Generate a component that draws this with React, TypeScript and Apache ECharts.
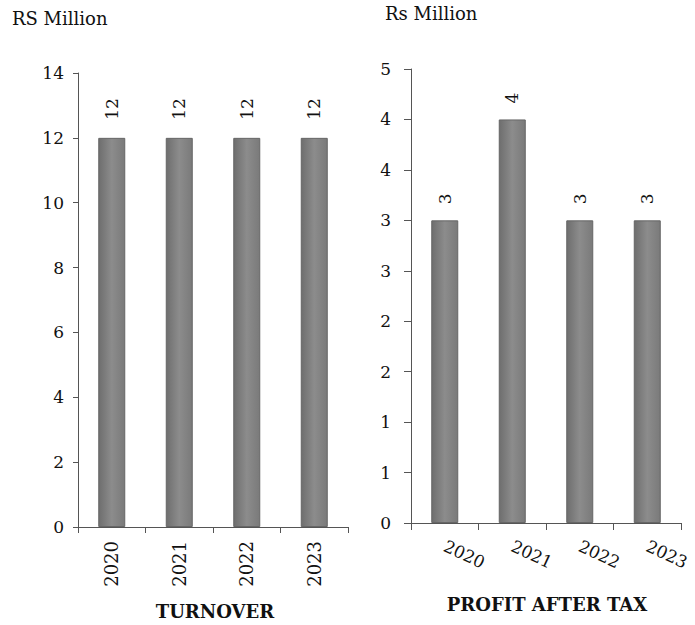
import React, { useEffect, useRef } from "react";
import * as echarts from "echarts";

const years = ["2020", "2021", "2022", "2023"];
const turnover = [12, 12, 12, 12];
const profitAfterTax = [3, 4, 3, 3];
const leftUnit = "RS Million";
const rightUnit = "Rs Million";
const leftTitle = "TURNOVER";
const rightTitle = "PROFIT AFTER TAX";

const FONT = "'DejaVu Serif', serif";
const TEXT = "#111";
const AXIS = "#555";

const barStyle = {
  color: new echarts.graphic.LinearGradient(0, 0, 1, 0, [
    { offset: 0, color: "#6e6e6e" },
    { offset: 0.5, color: "#8c8c8c" },
    { offset: 1, color: "#7a7a7a" },
  ]),
  borderColor: "#666",
  borderWidth: 1,
};

export default function App() {
  const ref = useRef<HTMLDivElement>(null);
  useEffect(() => {
    if (!ref.current) return;
    const chart = echarts.init(ref.current, undefined, { renderer: "svg" });
    chart.setOption({
      animation: false,
      backgroundColor: "#fff",
      textStyle: { fontFamily: FONT },
      grid: [
        { left: 78, top: 73, width: 270, height: 454 },
        { left: 411, top: 69, width: 270, height: 454 },
      ],
      xAxis: [
        {
          gridIndex: 0,
          type: "category",
          data: years,
          axisLine: { lineStyle: { color: AXIS } },
          axisTick: { show: true, length: 6, lineStyle: { color: AXIS } },
          axisLabel: { rotate: 90, margin: 14, fontSize: 18, color: TEXT, fontFamily: FONT },
        },
        {
          gridIndex: 1,
          type: "category",
          data: years,
          axisLine: { lineStyle: { color: AXIS } },
          axisTick: { show: true, length: 7, lineStyle: { color: AXIS } },
          axisLabel: { rotate: -25, margin: 22, fontSize: 17, color: TEXT, fontFamily: FONT },
        },
      ],
      yAxis: [
        {
          gridIndex: 0,
          type: "value",
          min: 0,
          max: 14,
          interval: 2,
          splitLine: { show: false },
          axisLine: { show: true, lineStyle: { color: AXIS } },
          axisTick: { show: true, length: 5, lineStyle: { color: AXIS } },
          axisLabel: { margin: 14, fontSize: 17, color: TEXT, fontFamily: FONT },
        },
        {
          gridIndex: 1,
          type: "value",
          min: 0,
          max: 4.5,
          interval: 0.5,
          splitLine: { show: false },
          axisLine: { show: true, lineStyle: { color: AXIS } },
          axisTick: { show: true, length: 7, lineStyle: { color: AXIS } },
          axisLabel: {
            margin: 20,
            fontSize: 17,
            color: TEXT,
            fontFamily: FONT,
            formatter: (v: number) => String(Math.round(v)),
          },
        },
      ],
      series: [
        {
          type: "bar",
          xAxisIndex: 0,
          yAxisIndex: 0,
          data: turnover,
          barWidth: 27,
          itemStyle: barStyle,
          label: {
            show: true,
            position: "top",
            rotate: 90,
            align: "left",
            verticalAlign: "middle",
            distance: 18,
            fontSize: 17,
            color: TEXT,
            fontFamily: FONT,
          },
        },
        {
          type: "bar",
          xAxisIndex: 1,
          yAxisIndex: 1,
          data: profitAfterTax,
          barWidth: 27,
          itemStyle: barStyle,
          label: {
            show: true,
            position: "top",
            rotate: 90,
            align: "left",
            verticalAlign: "middle",
            distance: 16,
            fontSize: 17,
            color: TEXT,
            fontFamily: FONT,
            formatter: (p: any) => String(Math.round(p.value)),
          },
        },
      ],
      graphic: [
        {
          type: "text",
          left: 12,
          top: 9,
          style: { text: leftUnit, fontSize: 18, fill: TEXT, fontFamily: FONT },
        },
        {
          type: "text",
          left: 385,
          top: 4,
          style: { text: rightUnit, fontSize: 18, fill: TEXT, fontFamily: FONT },
        },
        {
          type: "text",
          x: 215,
          y: 611,
          style: {
            text: leftTitle,
            fontSize: 18,
            fontWeight: "bold",
            fill: TEXT,
            fontFamily: FONT,
            align: "center",
            verticalAlign: "middle",
          },
        },
        {
          type: "text",
          x: 547,
          y: 604,
          style: {
            text: rightTitle,
            fontSize: 18,
            fontWeight: "bold",
            fill: TEXT,
            fontFamily: FONT,
            align: "center",
            verticalAlign: "middle",
          },
        },
      ],
    });
    return () => chart.dispose();
  }, []);
  return (
    <div
      ref={ref}
      style={{ position: "fixed", left: 0, top: 0, width: 695, height: 625 }}
    />
  );
}
